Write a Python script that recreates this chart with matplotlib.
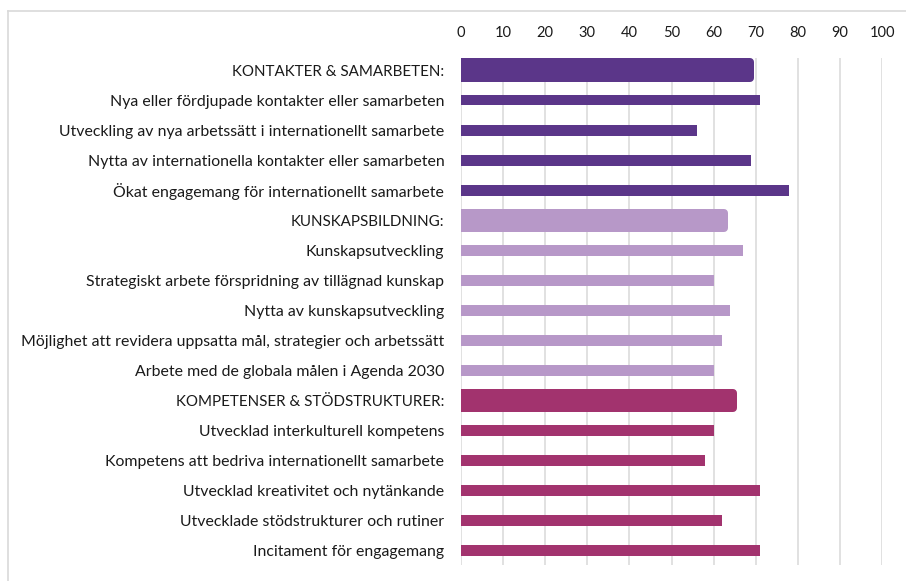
import matplotlib
matplotlib.use("Agg")
import matplotlib.pyplot as plt
from matplotlib.lines import Line2D

plt.rcParams['font.family'] = ['Lato', 'DejaVu Sans']

categories = [
    "KONTAKTER & SAMARBETEN:",
    "Nya eller fördjupade kontakter eller samarbeten",
    "Utveckling av nya arbetssätt i internationellt samarbete",
    "Nytta av internationella kontakter eller samarbeten",
    "Ökat engagemang för internationellt samarbete",
    "KUNSKAPSBILDNING:",
    "Kunskapsutveckling",
    "Strategiskt arbete förspridning av tillägnad kunskap",
    "Nytta av kunskapsutveckling",
    "Möjlighet att revidera uppsatta mål, strategier och arbetssätt",
    "Arbete med de globala målen i Agenda 2030",
    "KOMPETENSER & STÖDSTRUKTURER:",
    "Utvecklad interkulturell kompetens",
    "Kompetens att bedriva internationellt samarbete",
    "Utvecklad kreativitet och nytänkande",
    "Utvecklade stödstrukturer och rutiner",
    "Incitament för engagemang",
]
values = [69.5, 71, 56, 69, 78, 63.5, 67, 60, 64, 62, 60, 65.5, 60, 58, 71, 62, 71]
is_header = [True, False, False, False, False, True, False, False, False, False, False,
             True, False, False, False, False, False]
group = [0]*5 + [1]*6 + [2]*6
group_colors = ["#5B3689", "#B798C8", "#A2336E"]
xticks = [0, 10, 20, 30, 40, 50, 60, 70, 80, 90, 100]

W, H, DPI = 906, 581, 100
fig = plt.figure(figsize=(W/DPI, H/DPI), dpi=DPI)
ax = fig.add_axes([461/W, 1-565/H, (882-461)/W, (565-58)/H])

ax.set_xlim(0, 100)
ax.set_ylim(16.47, -0.4)

px_per_x = (882-461)/100.0
px_per_row = (565-58)/(16.87)

radius_px = 4.0
lw_pt = 2*radius_px*72/DPI

for i, (v, h, g) in enumerate(zip(values, is_header, group)):
    c = group_colors[g]
    if h:
        hgt = 0.77 - 2*radius_px/px_per_row
        w = v - radius_px/px_per_x
        ax.barh(i, w, height=hgt, color=c, edgecolor=c, linewidth=lw_pt,
                joinstyle='round', zorder=3)
    else:
        ax.barh(i, v, height=0.36, color=c, linewidth=0, zorder=3)

ax.set_yticks(range(len(categories)))
ax.set_yticklabels(categories, color="#1a1a1a")
for lbl, h in zip(ax.get_yticklabels(), is_header):
    lbl.set_fontsize(10.9 if h else 11.4)
ax.set_xticks(xticks)
ax.set_xticklabels([str(t) for t in xticks], fontsize=10.5, color="#1a1a1a")
ax.xaxis.tick_top()
ax.tick_params(axis='x', length=0, pad=13)
ax.tick_params(axis='y', length=0, pad=12)
ax.grid(axis='x', color="#D9D9D9", linewidth=1.1, zorder=0)
ax.set_axisbelow(True)
for s in ax.spines.values():
    s.set_visible(False)

# outer frame (partially cropped)
fig.add_artist(Line2D([8/W, 1], [1-11/H, 1-11/H], color="#D9D9D9", linewidth=1.2,
                      transform=fig.transFigure))
fig.add_artist(Line2D([8/W, 8/W], [0, 1-11/H], color="#D9D9D9", linewidth=1.2,
                      transform=fig.transFigure))

fig.savefig("out.png", dpi=DPI)
